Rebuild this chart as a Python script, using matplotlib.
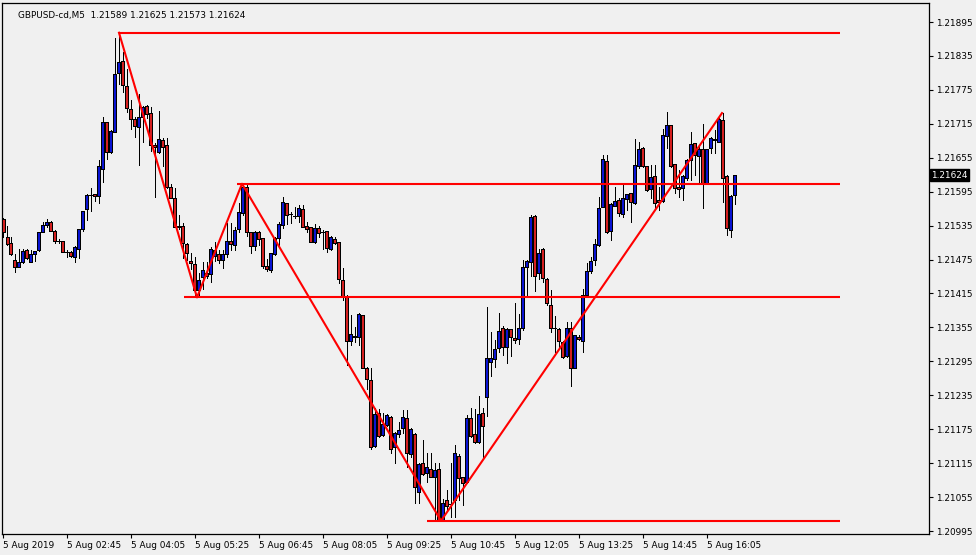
import matplotlib
matplotlib.use("Agg")
import matplotlib.pyplot as plt
import numpy as np

# GBPUSD M5 candles (bar index 0 = first bar shown)
opens = [
    1.21547, 1.21515, 1.21504, 1.21474, 1.21462, 1.21471, 1.21492, 1.21471, 1.21485, 1.21492,
    1.21524, 1.21536, 1.21541, 1.21525, 1.21508, 1.21508, 1.21488, 1.21488, 1.21479, 1.21494,
    1.21529, 1.21564, 1.21589, 1.21591, 1.21587, 1.21635, 1.21718, 1.21665, 1.21701, 1.21805,
    1.21826, 1.21782, 1.21741, 1.21724, 1.21709, 1.21727, 1.21747, 1.21734, 1.21678, 1.21665,
    1.21686, 1.21678, 1.21603, 1.21584, 1.21534, 1.21534, 1.21502, 1.21472, 1.21467, 1.21421,
    1.21444, 1.21451, 1.21449, 1.21481, 1.21485, 1.21474, 1.21485, 1.21508, 1.21501, 1.21529,
    1.21557, 1.21603, 1.21524, 1.21499, 1.21524, 1.21513, 1.21464, 1.21456, 1.21485, 1.21513,
    1.21536, 1.21575, 1.21556, 1.21552, 1.21552, 1.21564, 1.21534, 1.21533, 1.21506, 1.21531,
    1.21524, 1.21525, 1.21494, 1.21511, 1.21506, 1.21439, 1.21409, 1.21331, 1.21340, 1.21338,
    1.21377, 1.21283, 1.21262, 1.21145, 1.21204, 1.21165, 1.21182, 1.21197, 1.21144, 1.21167,
    1.21177, 1.21195, 1.21131, 1.21167, 1.21064, 1.21115, 1.21098, 1.21105, 1.21090, 1.21105,
    1.21014, 1.21050, 1.21043, 1.21050, 1.21128, 1.21090, 1.21082, 1.21195, 1.21167, 1.21152,
    1.21204, 1.21232, 1.21294, 1.21299, 1.21319, 1.21354, 1.21320, 1.21352, 1.21336, 1.21334,
    1.21354, 1.21462, 1.21471, 1.21552, 1.21451, 1.21494, 1.21441, 1.21395, 1.21354, 1.21352,
    1.21329, 1.21304, 1.21354, 1.21283, 1.21338, 1.21331, 1.21412, 1.21455, 1.21474, 1.21501,
    1.21568, 1.21649, 1.21525, 1.21570, 1.21580, 1.21556, 1.21582, 1.21593, 1.21575, 1.21640,
    1.21672, 1.21640, 1.21600, 1.21623, 1.21580, 1.21579, 1.21693, 1.21713, 1.21644, 1.21603,
    1.21601, 1.21619, 1.21651, 1.21681, 1.21658, 1.21670, 1.21610, 1.21672, 1.21688, 1.21683,
    1.21722, 1.21623, 1.21527, 1.21589,
]
highs = [
    1.21548, 1.21534, 1.21515, 1.21485, 1.21494, 1.21494, 1.21494, 1.21492, 1.21490, 1.21524,
    1.21541, 1.21547, 1.21543, 1.21527, 1.21511, 1.21508, 1.21492, 1.21490, 1.21499, 1.21529,
    1.21561, 1.21591, 1.21601, 1.21591, 1.21651, 1.21727, 1.21718, 1.21704, 1.21867, 1.21876,
    1.21842, 1.21812, 1.21757, 1.21727, 1.21768, 1.21747, 1.21748, 1.21745, 1.21681, 1.21738,
    1.21690, 1.21690, 1.21609, 1.21601, 1.21554, 1.21540, 1.21504, 1.21487, 1.21479, 1.21451,
    1.21471, 1.21471, 1.21497, 1.21506, 1.21492, 1.21492, 1.21540, 1.21540, 1.21533, 1.21575,
    1.21609, 1.21607, 1.21524, 1.21525, 1.21525, 1.21513, 1.21476, 1.21487, 1.21515, 1.21541,
    1.21586, 1.21575, 1.21559, 1.21568, 1.21571, 1.21571, 1.21541, 1.21533, 1.21538, 1.21534,
    1.21527, 1.21525, 1.21517, 1.21515, 1.21506, 1.21460, 1.21412, 1.21377, 1.21356, 1.21380,
    1.21377, 1.21285, 1.21283, 1.21212, 1.21211, 1.21204, 1.21202, 1.21198, 1.21170, 1.21188,
    1.21209, 1.21209, 1.21177, 1.21168, 1.21115, 1.21156, 1.21133, 1.21133, 1.21115, 1.21115,
    1.21052, 1.21067, 1.21115, 1.21147, 1.21131, 1.21090, 1.21200, 1.21212, 1.21211, 1.21234,
    1.21212, 1.21391, 1.21347, 1.21333, 1.21380, 1.21357, 1.21354, 1.21352, 1.21398, 1.21379,
    1.21474, 1.21474, 1.21554, 1.21554, 1.21494, 1.21495, 1.21442, 1.21421, 1.21375, 1.21354,
    1.21331, 1.21365, 1.21365, 1.21342, 1.21342, 1.21423, 1.21469, 1.21479, 1.21511, 1.21586,
    1.21660, 1.21660, 1.21575, 1.21603, 1.21584, 1.21607, 1.21591, 1.21593, 1.21688, 1.21683,
    1.21674, 1.21640, 1.21642, 1.21642, 1.21603, 1.21706, 1.21736, 1.21713, 1.21644, 1.21633,
    1.21625, 1.21653, 1.21701, 1.21681, 1.21676, 1.21715, 1.21670, 1.21692, 1.21704, 1.21727,
    1.21734, 1.21625, 1.21589, 1.21625,
]
lows = [
    1.21515, 1.21501, 1.21483, 1.21453, 1.21462, 1.21469, 1.21476, 1.21471, 1.21472, 1.21490,
    1.21524, 1.21533, 1.21525, 1.21504, 1.21504, 1.21488, 1.21479, 1.21479, 1.21471, 1.21478,
    1.21525, 1.21545, 1.21561, 1.21579, 1.21575, 1.21612, 1.21653, 1.21663, 1.21701, 1.21785,
    1.21771, 1.21736, 1.21706, 1.21692, 1.21642, 1.21683, 1.21725, 1.21667, 1.21586, 1.21663,
    1.21640, 1.21601, 1.21584, 1.21533, 1.21529, 1.21478, 1.21474, 1.21458, 1.21408, 1.21409,
    1.21423, 1.21442, 1.21435, 1.21472, 1.21469, 1.21460, 1.21479, 1.21492, 1.21492, 1.21524,
    1.21554, 1.21517, 1.21487, 1.21492, 1.21501, 1.21460, 1.21455, 1.21453, 1.21483, 1.21497,
    1.21531, 1.21538, 1.21540, 1.21548, 1.21541, 1.21533, 1.21524, 1.21506, 1.21504, 1.21515,
    1.21494, 1.21488, 1.21492, 1.21502, 1.21434, 1.21403, 1.21289, 1.21324, 1.21329, 1.21324,
    1.21283, 1.21246, 1.21140, 1.21144, 1.21161, 1.21163, 1.21181, 1.21133, 1.21115, 1.21161,
    1.21168, 1.21108, 1.21126, 1.21045, 1.21045, 1.21094, 1.21082, 1.21090, 1.21016, 1.21013,
    1.21014, 1.21032, 1.21020, 1.21020, 1.21050, 1.21041, 1.21080, 1.21161, 1.21151, 1.21151,
    1.21122, 1.21198, 1.21269, 1.21285, 1.21312, 1.21306, 1.21292, 1.21304, 1.21327, 1.21326,
    1.21350, 1.21411, 1.21446, 1.21419, 1.21441, 1.21435, 1.21395, 1.21347, 1.21312, 1.21319,
    1.21301, 1.21303, 1.21251, 1.21283, 1.21333, 1.21312, 1.21409, 1.21451, 1.21465, 1.21499,
    1.21568, 1.21522, 1.21510, 1.21570, 1.21552, 1.21550, 1.21563, 1.21541, 1.21573, 1.21637,
    1.21639, 1.21596, 1.21584, 1.21566, 1.21563, 1.21577, 1.21672, 1.21639, 1.21593, 1.21586,
    1.21580, 1.21616, 1.21616, 1.21625, 1.21610, 1.21566, 1.21610, 1.21663, 1.21663, 1.21683,
    1.21577, 1.21518, 1.21515, 1.21573,
]
closes = [
    1.21524, 1.21502, 1.21485, 1.21462, 1.21471, 1.21490, 1.21478, 1.21485, 1.21490, 1.21524,
    1.21536, 1.21541, 1.21525, 1.21508, 1.21508, 1.21488, 1.21488, 1.21481, 1.21497, 1.21529,
    1.21561, 1.21589, 1.21589, 1.21587, 1.21640, 1.21718, 1.21665, 1.21702, 1.21803, 1.21824,
    1.21784, 1.21743, 1.21724, 1.21711, 1.21727, 1.21745, 1.21732, 1.21678, 1.21674, 1.21688,
    1.21674, 1.21603, 1.21584, 1.21533, 1.21533, 1.21504, 1.21487, 1.21469, 1.21421, 1.21439,
    1.21456, 1.21446, 1.21494, 1.21492, 1.21474, 1.21485, 1.21508, 1.21502, 1.21527, 1.21559,
    1.21603, 1.21524, 1.21499, 1.21524, 1.21511, 1.21464, 1.21458, 1.21487, 1.21513, 1.21538,
    1.21577, 1.21554, 1.21556, 1.21552, 1.21566, 1.21533, 1.21529, 1.21506, 1.21531, 1.21522,
    1.21524, 1.21495, 1.21515, 1.21504, 1.21441, 1.21409, 1.21331, 1.21343, 1.21338, 1.21379,
    1.21283, 1.21264, 1.21144, 1.21202, 1.21163, 1.21184, 1.21200, 1.21140, 1.21168, 1.21174,
    1.21197, 1.21133, 1.21175, 1.21073, 1.21113, 1.21096, 1.21108, 1.21090, 1.21103, 1.21014,
    1.21045, 1.21039, 1.21043, 1.21133, 1.21089, 1.21080, 1.21195, 1.21163, 1.21152, 1.21202,
    1.21181, 1.21301, 1.21301, 1.21317, 1.21349, 1.21320, 1.21352, 1.21338, 1.21333, 1.21354,
    1.21462, 1.21472, 1.21550, 1.21446, 1.21487, 1.21442, 1.21398, 1.21354, 1.21354, 1.21331,
    1.21303, 1.21354, 1.21283, 1.21342, 1.21334, 1.21412, 1.21455, 1.21472, 1.21502, 1.21566,
    1.21653, 1.21524, 1.21573, 1.21579, 1.21557, 1.21584, 1.21591, 1.21577, 1.21642, 1.21670,
    1.21640, 1.21598, 1.21621, 1.21575, 1.21577, 1.21695, 1.21713, 1.21640, 1.21601, 1.21600,
    1.21623, 1.21651, 1.21679, 1.21660, 1.21670, 1.21610, 1.21670, 1.21690, 1.21686, 1.21724,
    1.21619, 1.21531, 1.21587, 1.21624,
]

# x-axis labels every 16 bars
time_labels = ["5 Aug 2019", "5 Aug 02:45", "5 Aug 04:05", "5 Aug 05:25", "5 Aug 06:45",
               "5 Aug 08:05", "5 Aug 09:25", "5 Aug 10:45", "5 Aug 12:05", "5 Aug 13:25",
               "5 Aug 14:45", "5 Aug 16:05"]
price_ticks = [1.20995, 1.21055, 1.21115, 1.21175, 1.21235, 1.21295, 1.21355, 1.21415,
               1.21475, 1.21535, 1.21595, 1.21655, 1.21715, 1.21775, 1.21835, 1.21895]

# horizontal levels: price, first bar, last bar
level_prices = [1.21876, 1.21609, 1.21408, 1.21013]
level_start = [29, 58.5, 45.25, 106]
level_end = [209.25, 209.25, 209.25, 209.25]

# zigzag pivots (bar position, price)
zz_x = [29, 48.5, 59.75, 109.5, 179.75]
zz_y = [1.21876, 1.21408, 1.21609, 1.21013, 1.21734]

header = "GBPUSD-cd,M5  1.21589 1.21625 1.21573 1.21624"
last_price = closes[-1]

bg = "#f0f0f0"
bull_col = "#0a14d2"
bear_col = "#d42020"

o = np.array(opens)
h = np.array(highs)
l = np.array(lows)
c = np.array(closes)
idx = np.arange(len(o))

W, H = 976, 555
fig = plt.figure(figsize=(W / 100, H / 100), dpi=100, facecolor=bg)
ax = fig.add_axes([2 / W, 1 - 534 / H, 927 / W, 531 / H])
ax.set_facecolor(bg)

# wicks
ax.vlines(idx, np.minimum(l, np.minimum(o, c)), np.maximum(h, np.maximum(o, c)),
          color="black", linewidth=0.72, zorder=2, antialiased=False)
# bodies (crisp pixels like the terminal)
colors = np.where(c >= o, bull_col, bear_col)
ax.bar(idx, np.abs(c - o), bottom=np.minimum(o, c), width=0.75, color=colors,
       edgecolor="black", linewidth=0.72, zorder=3, antialiased=False)

# levels + zigzag
for p, s, e in zip(level_prices, level_start, level_end):
    ax.plot([s, e], [p, p], color="#ff0000", linewidth=1.5, zorder=4,
            solid_capstyle="butt")
ax.plot(zz_x, zz_y, color="#ff0000", linewidth=1.5, zorder=4)

ax.set_xlim(-0.25, 231.5)
ax.set_ylim(1.209897, 1.219286)

# x axis
ax.set_xticks(np.arange(0, 16 * len(time_labels), 16))
ax.set_xticklabels(time_labels)
for t in ax.get_xticklabels():
    t.set_horizontalalignment("left")
ax.tick_params(axis="x", direction="out", length=3, width=0.8, pad=2,
               labelsize=6.4, colors="black")

# y axis on right
ax.yaxis.tick_right()
ax.set_yticks(price_ticks)
ax.set_yticklabels([f"{v:.5f}" for v in price_ticks])
ax.tick_params(axis="y", direction="out", length=3, width=0.8, pad=2,
               labelsize=6.4, colors="black")

for sp in ax.spines.values():
    sp.set_color("black")
    sp.set_linewidth(0.9)

ax.text(0.017, 0.985, header, transform=ax.transAxes, fontsize=6.4,
        ha="left", va="top", color="black")

# current price tag
ax.text(1.0025, last_price, f"{last_price:.5f}", transform=ax.get_yaxis_transform(),
        fontsize=6.4, ha="left", va="center", color="white", zorder=10,
        bbox=dict(boxstyle="square,pad=0.15", facecolor="black", edgecolor="black"),
        clip_on=False)

fig.savefig("out.png", dpi=100, facecolor=bg)
